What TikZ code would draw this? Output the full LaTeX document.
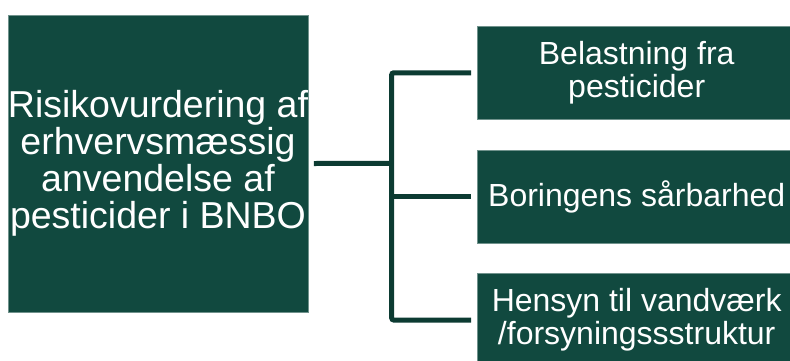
\documentclass[tikz,border=0pt]{standalone}
\usepackage{fontspec}
\setmainfont{Liberation Sans}
\definecolor{boxgreen}{HTML}{11493F}
\definecolor{linegreen}{HTML}{0C3B32}
\begin{document}
\begin{tikzpicture}[x=1pt,y=-1pt,
  box/.style={rectangle, fill=boxgreen, draw=boxgreen!60!white, line width=0.4pt, inner sep=0pt, text=white, align=center},
  conn/.style={draw=linegreen, line width=5pt}]
\useasboundingbox (0,0) rectangle (790,360);
\node[box, minimum width=298pt, minimum height=297pt, font=\fontsize{37.5}{37}\selectfont] (L) at (158,163.5)
  {Risikovurdering af\\erhvervsmæssig\\anvendelse af\\pesticider i BNBO};
\node[box, minimum width=320pt, minimum height=92.5pt, font=\fontsize{32}{33}\selectfont] (A) at (636.7,72.8)
  {Belastning fra\\pesticider};
\node[box, minimum width=320pt, minimum height=93pt, font=\fontsize{32}{33}\selectfont] (B) at (636.7,196.5)
  {Boringens sårbarhed};
\node[box, minimum width=320pt, minimum height=94pt, font=\fontsize{32}{33}\selectfont] (C) at (636.7,320)
  {Hensyn til vandværk\\/forsyningssstruktur};
\coordinate (j) at (391.7,163.3);
\draw[conn] ([xshift=5.5pt]L.east) -- (j);
\draw[conn, rounded corners=2pt] ([xshift=-5.5pt]A.west) -| (j) |- ([xshift=-5.5pt]C.west);
\draw[conn] (j |- B.west) -- ([xshift=-5.5pt]B.west);
\end{tikzpicture}
\end{document}
